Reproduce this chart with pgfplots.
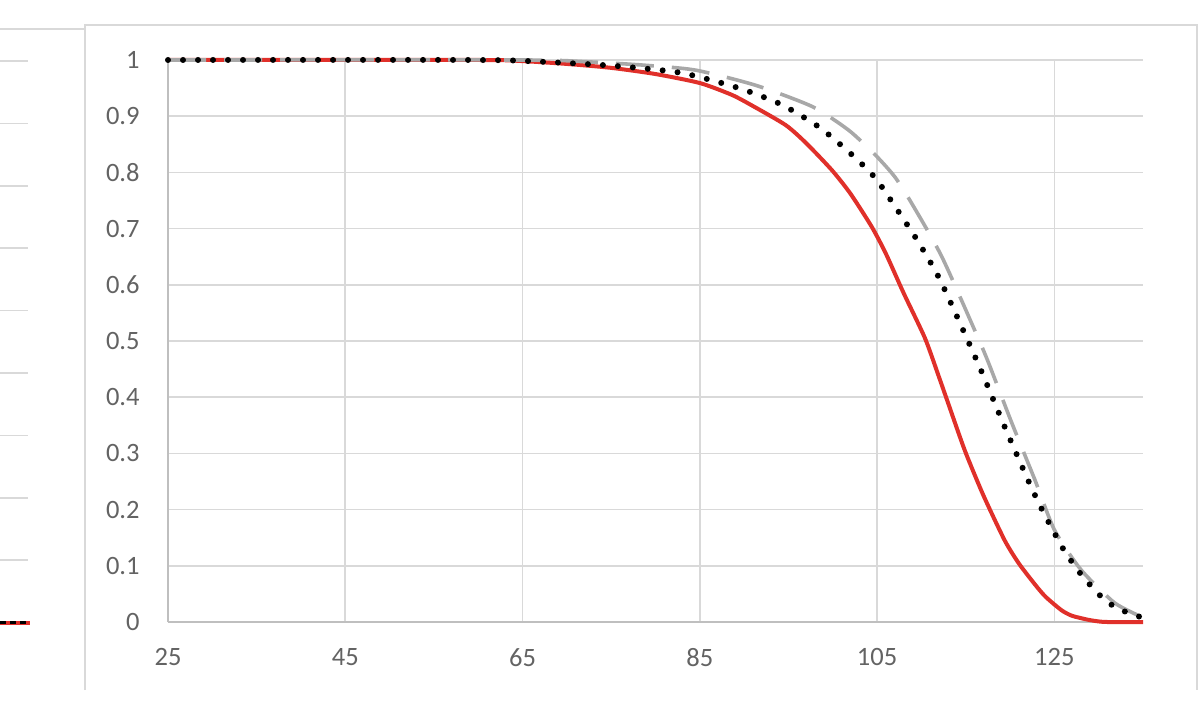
\documentclass[border=0pt]{standalone}
\usepackage{pgfplots}
\pgfplotsset{compat=1.18}
\usepackage{fontspec}
\setmainfont{Carlito}
\definecolor{gridc}{HTML}{D9D9D9}
\definecolor{axisc}{HTML}{BFBFBF}
\definecolor{labc}{HTML}{636363}
\definecolor{redc}{HTML}{E0302A}
\definecolor{grayc}{HTML}{A8A8A8}
\begin{document}
\begin{tikzpicture}[x=1bp,y=1bp]
\useasboundingbox (0,0) rectangle (600,353);
% frames
\draw[gridc, line width=0.8bp] (42.5,8) -- (42.5,340.5) -- (598.5,340.5) -- (598.5,8);
\draw[gridc, line width=0.8bp] (0,338.5) -- (42.5,338.5);
% left partial panel
\begin{axis}[
  at={(0bp,41.75bp)}, anchor=south west,
  scale only axis, width=14bp, height=280.75bp,
  xmin=0, xmax=1, ymin=0, ymax=9,
  ytick={1,2,3,4,5,6,7,8,9}, xtick=\empty,
  yticklabels={}, major tick length=0pt,
  ymajorgrids, grid style={gridc, line width=0.8bp},
  axis line style={draw=none}, clip=false]
\addplot[redc, line width=2bp] coordinates {(0,0) (1.07,0)};
\addplot[black, line width=1.6bp, dash pattern=on 3bp off 2bp] coordinates {(0,0) (1.07,0)};
\end{axis}
% main chart
\begin{axis}[
  at={(84bp,42bp)}, anchor=south west,
  scale only axis, width=487.5bp, height=281bp,
  xmin=25, xmax=135, ymin=0, ymax=1,
  xtick={25,45,65,85,105,125},
  ytick={0,0.1,0.2,0.3,0.4,0.5,0.6,0.7,0.8,0.9,1},
  yticklabels={0,0.1,0.2,0.3,0.4,0.5,0.6,0.7,0.8,0.9,1},
  /pgf/number format/assume math mode=true,
  major tick length=0pt,
  xmajorgrids, ymajorgrids,
  grid style={gridc, line width=0.8bp},
  axis x line*=bottom, axis y line*=left,
  axis line style={axisc, line width=0.8bp, -},
  tick label style={labc, font=\fontsize{13.3}{15}\selectfont, inner sep=0pt},
  yticklabel style={anchor=east, xshift=-14bp},
  xticklabel style={anchor=north, yshift=-13bp},
  clip=false]
\addplot[redc, line width=2bp, line join=round, smooth, tension=0.4] coordinates {
(25,1) (60,1) (65,0.998) (70,0.993) (75,0.986) (80,0.975) (85,0.959) (88.6,0.938)
(91,0.918) (94.7,0.884) (97,0.852) (99.9,0.804) (102,0.762) (104.4,0.703) (106,0.655)
(108,0.585) (110.4,0.505) (112,0.435) (113,0.39) (114.9,0.305) (117,0.225) (119.4,0.145)
(121,0.104) (122.8,0.067) (124,0.045) (125.8,0.021) (127,0.011) (128.8,0.004)
(130,0.001) (131,0) (135,0)};
\addplot[grayc, line width=1.8bp, dash pattern=on 19bp off 9bp, smooth, tension=0.4] coordinates {
(25,1) (65,1) (72,0.997) (78.5,0.991) (84.5,0.982) (91.3,0.955) (97.7,0.917)
(101.8,0.875) (104.8,0.831) (107,0.792) (108.9,0.745) (112.3,0.65)
(116.4,0.505) (117.6,0.46) (120.2,0.354) (122.8,0.253) (125,0.164) (128,0.093)
(131.8,0.034) (135,0.008)};
\addplot[black, line width=3bp, line cap=round, dash pattern=on 0bp off 7.5bp, smooth, tension=0.4] coordinates {
(25,1) (60,1) (67,0.997) (75,0.99) (81.7,0.98) (84.9,0.97) (89.8,0.948) (94.3,0.92)
(98.6,0.879) (102.4,0.828) (104.8,0.79) (106.7,0.747) (109.5,0.68) (112,0.612)
(114.8,0.516) (116.8,0.445) (119.4,0.347) (122.1,0.25) (123.6,0.2) (126,0.13)
(128,0.085) (130.1,0.048) (132,0.025) (134.5,0.01) (135,0.008)};
\end{axis}
\end{tikzpicture}
\end{document}
